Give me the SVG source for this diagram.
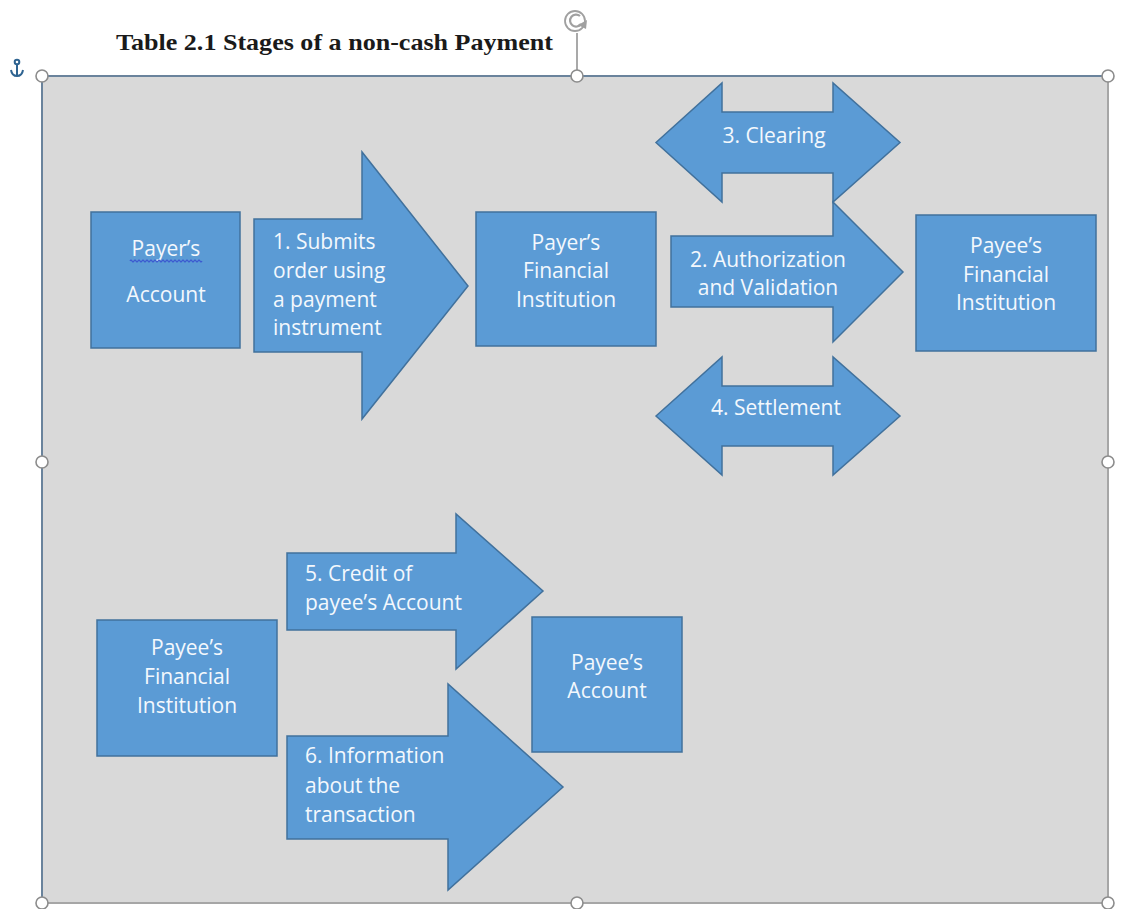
<svg xmlns="http://www.w3.org/2000/svg" width="1124" height="909" viewBox="0 0 1124 909">
<style>
.box{fill:#5b9bd5;stroke:#41719c;stroke-width:1.5}
.arr{fill:#5b9bd5;stroke:#41719c;stroke-width:1.5;stroke-linejoin:miter}
.t{font-family:"Open Sans","Liberation Sans",sans-serif;font-size:21px;fill:#f3f8fd}
.c{text-anchor:middle}
.h{fill:#ffffff;stroke:#8c8c8c;stroke-width:1.6}
.title{font-family:"Liberation Serif","Times New Roman",serif;font-weight:bold;font-size:24px;fill:#1a1a1a}
</style>
<rect width="1124" height="909" fill="#ffffff"/>
<text class="title" x="116" y="50" textLength="437" lengthAdjust="spacingAndGlyphs">Table 2.1 Stages of a non-cash Payment</text>
<g id="frame">
<rect x="42" y="76" width="1066" height="827" fill="#d9d9d9"/>
<line x1="1108" y1="76" x2="1108" y2="903" stroke="#a6a6a6" stroke-width="2"/>
<line x1="42" y1="903" x2="1108" y2="903" stroke="#a6a6a6" stroke-width="2"/>
<line x1="42" y1="76" x2="1108" y2="76" stroke="#6a839c" stroke-width="2"/>
<line x1="42" y1="76" x2="42" y2="903" stroke="#6a839c" stroke-width="2"/>
<line x1="577" y1="33" x2="577" y2="70" stroke="#8c8c8c" stroke-width="1.5"/>
<circle cx="575" cy="21" r="10" fill="none" stroke="#a0a0a0" stroke-width="1.8"/>
<path d="M580,16 A6,6 0 1 0 581,24" fill="none" stroke="#a0a0a0" stroke-width="2.2"/>
<polygon points="578,25 587,20 586,29" fill="#a0a0a0"/>
<g fill="none" stroke="#2f6491" stroke-width="2">
<circle cx="17" cy="62" r="2.3"/>
<line x1="17" y1="64.5" x2="17" y2="76"/>
<path d="M11,70 Q12,76 17,76 Q22,76 23,70"/>
</g>
<circle class="h" cx="42" cy="76" r="6"/>
<circle class="h" cx="577" cy="76" r="6"/>
<circle class="h" cx="1108" cy="76" r="6"/>
<circle class="h" cx="42" cy="462" r="6"/>
<circle class="h" cx="1108" cy="462" r="6"/>
<circle class="h" cx="42" cy="903" r="6"/>
<circle class="h" cx="577" cy="903" r="6"/>
<circle class="h" cx="1108" cy="903" r="6"/>
</g>
<g id="nodes">
<g id="payer-account">
<rect class="box" x="91" y="212" width="149" height="136"/>
<text class="t c" x="166" y="256">Payer’s</text>
<path d="M130,261 q1,-2 2,0 t2,0 t2,0 t2,0 t2,0 t2,0 t2,0 t2,0 t2,0 t2,0 t2,0 t2,0 t2,0 t2,0 t2,0 t2,0 t2,0 t2,0 t2,0 t2,0 t2,0 t2,0 t2,0 t2,0 t2,0 t2,0 t2,0 t2,0 t2,0 t2,0 t2,0 t2,0 t2,0 t2,0 t2,0 t2,0" fill="none" stroke="#3a55d0" stroke-width="1.2"/>
<text class="t c" x="166" y="302">Account</text>
</g>
<g id="payer-fi">
<rect class="box" x="476" y="212" width="180" height="134"/>
<text class="t c" x="566" y="250">Payer’s</text>
<text class="t c" x="566" y="278">Financial</text>
<text class="t c" x="566" y="307">Institution</text>
</g>
<g id="payee-fi-top">
<rect class="box" x="916" y="215" width="180" height="136"/>
<text class="t c" x="1006" y="253">Payee’s</text>
<text class="t c" x="1006" y="282">Financial</text>
<text class="t c" x="1006" y="310">Institution</text>
</g>
<g id="payee-fi-bottom">
<rect class="box" x="97" y="620" width="180" height="136"/>
<text class="t c" x="187" y="655">Payee’s</text>
<text class="t c" x="187" y="684">Financial</text>
<text class="t c" x="187" y="713">Institution</text>
</g>
<g id="payee-account">
<rect class="box" x="532" y="617" width="150" height="135"/>
<text class="t c" x="607" y="670">Payee’s</text>
<text class="t c" x="607" y="698">Account</text>
</g>
</g>
<g id="connectors">
<g id="stage1">
<polygon class="arr" points="254,219 362,219 362,152 468,286 362,419 362,352 254,352"/>
<text class="t" x="273" y="249">1. Submits</text>
<text class="t" x="273" y="278">order using</text>
<text class="t" x="273" y="307">a payment</text>
<text class="t" x="273" y="335">instrument</text>
</g>
<g id="stage3">
<polygon class="arr" points="656,142.5 722,83 722,112 833,112 833,83 900,142.5 833,202 833,173 722,173 722,202"/>
<text class="t c" x="774" y="143">3. Clearing</text>
</g>
<g id="stage2">
<polygon class="arr" points="671,236 833,236 833,202 903,272 833,342 833,307 671,307"/>
<text class="t c" x="768" y="267">2. Authorization</text>
<text class="t c" x="768" y="295">and Validation</text>
</g>
<g id="stage4">
<polygon class="arr" points="656,416 722,357 722,386 833,386 833,357 900,416 833,475 833,446 722,446 722,475"/>
<text class="t c" x="776" y="415">4. Settlement</text>
</g>
<g id="stage5">
<polygon class="arr" points="287,553 456,553 456,514 543,591 456,669 456,630 287,630"/>
<text class="t" x="305" y="581">5. Credit of</text>
<text class="t" x="305" y="610">payee’s Account</text>
</g>
<g id="stage6">
<polygon class="arr" points="287,736 448,736 448,684 563,787 448,890 448,839 287,839"/>
<text class="t" x="305" y="763">6. Information</text>
<text class="t" x="305" y="793">about the</text>
<text class="t" x="305" y="822">transaction</text>
</g>
</g>
</svg>
